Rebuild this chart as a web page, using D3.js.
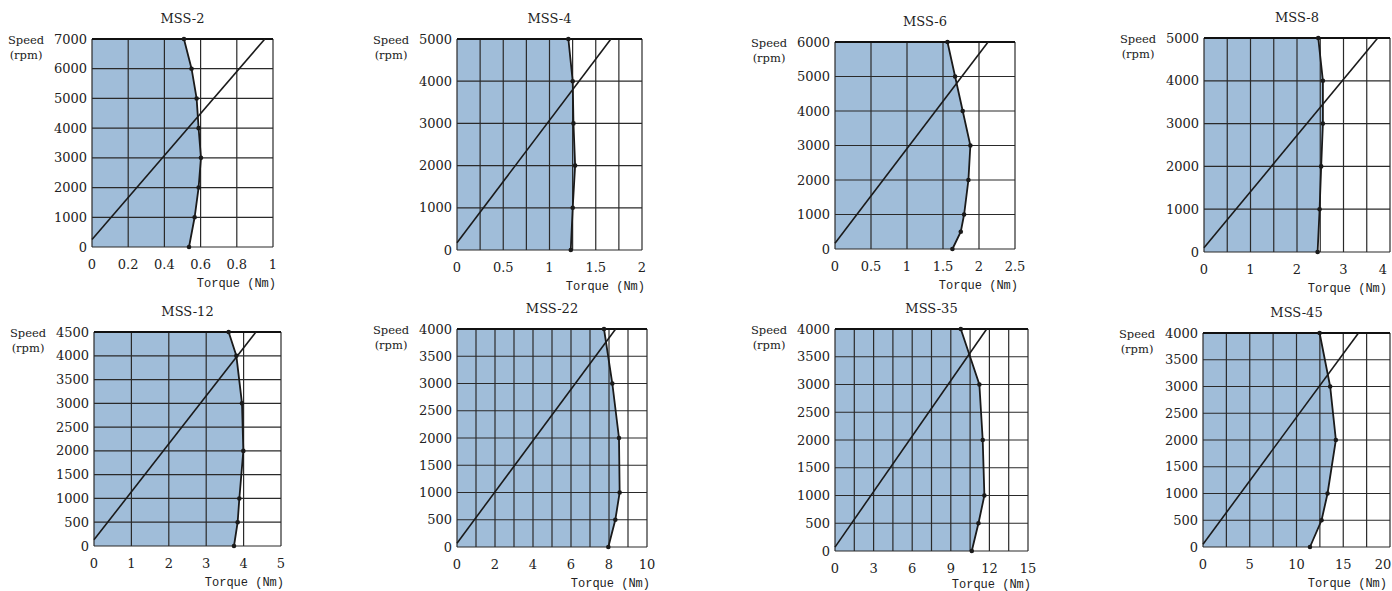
<!DOCTYPE html>
<meta charset="utf-8">
<head>
<script src="https://d3js.org/d3.v7.min.js"></script>
<style>
  body { margin: 0; background: #fff; }
  svg text { font-family: "DejaVu Serif", "Liberation Serif", serif; fill: #222; }
  .tick-lbl { font-size: 13px; }
  .ttl { font-size: 13px; }
  .axis-name { font-size: 11.5px; }
  .torque-name { font-family: "Liberation Mono", "DejaVu Sans Mono", monospace; font-size: 12px; }
</style>
</head>
<body>
<svg id="chart" width="1392" height="591"></svg>
<script>
// ---- data ----
var titles = ["MSS-2", "MSS-4", "MSS-6", "MSS-8", "MSS-12", "MSS-22", "MSS-35", "MSS-45"];

// axis maxima and tick steps
var torqueMax = [1, 2, 2.5, 4, 5, 10, 15, 20];
var torqueGridStep = [0.2, 0.25, 0.5, 0.5, 1, 1, 1.5, 2.5];
var torqueLabelStep = [0.2, 0.5, 0.5, 1, 1, 2, 3, 5];
var speedMax = [7000, 5000, 6000, 5000, 4500, 4000, 4000, 4000];
var speedStep = [1000, 1000, 1000, 1000, 500, 500, 500, 500];

// speed-torque curve vertices (speed rpm, torque Nm)
var curveSpeed = [
  [0, 1000, 2000, 3000, 4000, 5000, 6000, 7000],
  [0, 1000, 2000, 3000, 4000, 5000],
  [0, 500, 1000, 2000, 3000, 4000, 5000, 6000],
  [0, 1000, 2000, 3000, 4000, 5000],
  [0, 500, 1000, 2000, 3000, 4000, 4500],
  [0, 500, 1000, 2000, 3000, 4000],
  [0, 500, 1000, 2000, 3000, 4000],
  [0, 500, 1000, 2000, 3000, 4000]
];
var curveTorque = [
  [0.536, 0.567, 0.589, 0.602, 0.589, 0.578, 0.55, 0.508],
  [1.23, 1.251, 1.277, 1.259, 1.251, 1.204],
  [1.631, 1.747, 1.793, 1.853, 1.88, 1.774, 1.668, 1.562],
  [2.443, 2.486, 2.52, 2.557, 2.557, 2.457],
  [3.743, 3.841, 3.886, 3.993, 3.957, 3.806, 3.6],
  [7.965, 8.333, 8.561, 8.526, 8.175, 7.737],
  [10.63, 11.15, 11.61, 11.48, 11.22, 9.776],
  [11.44, 12.68, 13.32, 14.21, 13.6, 12.47]
];

// load line: speed at zero torque, torque at top speed
var lineStartSpeed = [250, 170, 165, 100, 130, 70, 70, 50];
var lineEndTorque = [0.955, 1.664, 2.126, 3.736, 4.33, 8.35, 11.79, 16.63];

// ---- layout (plot rectangles in px) ----
var boxes = [
  {l: 92, r: 273, t: 39, b: 247},
  {l: 457, r: 642, t: 39, b: 250},
  {l: 835, r: 1015, t: 42, b: 249},
  {l: 1204, r: 1390, t: 38, b: 252},
  {l: 94, r: 281, t: 332, b: 546},
  {l: 457, r: 647, t: 329, b: 547},
  {l: 835, r: 1028, t: 329, b: 551},
  {l: 1203, r: 1390, t: 333, b: 547}
];

var svg = d3.select("#chart");
var W = +svg.attr("width");

function fmt(v) {
  return String(+v.toFixed(2));
}

titles.forEach(function(title, i) {
  var bx = boxes[i];
  var x = d3.scaleLinear().domain([0, torqueMax[i]]).range([bx.l, bx.r]);
  var y = d3.scaleLinear().domain([0, speedMax[i]]).range([bx.b, bx.t]);
  var g = svg.append("g");

  // filled operating area
  var pts = curveSpeed[i].map(function(s, k) { return {s: s, t: curveTorque[i][k]}; });
  var area = d3.area()
    .y(function(d) { return y(d.s); })
    .x0(x(0))
    .x1(function(d) { return x(d.t); });
  g.append("path").datum(pts)
    .attr("d", area)
    .attr("fill", "#a0bdd9");

  // grid
  var xGrid = d3.range(0, torqueMax[i] + 1e-9, torqueGridStep[i]);
  var yGrid = d3.range(0, speedMax[i] + 1e-9, speedStep[i]);
  g.selectAll(".vg").data(xGrid).enter().append("line")
    .attr("x1", function(d) { return x(d); }).attr("x2", function(d) { return x(d); })
    .attr("y1", bx.t).attr("y2", bx.b)
    .attr("stroke", "#2a2a2a").attr("stroke-width", 1.2);
  g.selectAll(".hg").data(yGrid).enter().append("line")
    .attr("y1", function(d) { return y(d); }).attr("y2", function(d) { return y(d); })
    .attr("x1", bx.l).attr("x2", bx.r)
    .attr("stroke", "#2a2a2a").attr("stroke-width", 1.2);
  // heavier top edge
  g.append("line")
    .attr("x1", bx.l).attr("x2", bx.r).attr("y1", bx.t).attr("y2", bx.t)
    .attr("stroke", "#111").attr("stroke-width", 1.8);

  // curve + points
  var line = d3.line().x(function(d) { return x(d.t); }).y(function(d) { return y(d.s); });
  g.append("path").datum(pts)
    .attr("d", line).attr("fill", "none")
    .attr("stroke", "#1a1a1a").attr("stroke-width", 1.8);
  g.selectAll(".pt").data(pts).enter().append("circle")
    .attr("cx", function(d) { return x(d.t); })
    .attr("cy", function(d) { return y(d.s); })
    .attr("r", 2.3).attr("fill", "#1a1a1a");

  // load line
  g.append("line")
    .attr("x1", x(0)).attr("y1", y(lineStartSpeed[i]))
    .attr("x2", x(lineEndTorque[i])).attr("y2", y(speedMax[i]))
    .attr("stroke", "#1a1a1a").attr("stroke-width", 1.6);

  // tick labels
  g.selectAll(".yl").data(yGrid).enter().append("text")
    .attr("class", "tick-lbl")
    .attr("x", bx.l - 5).attr("y", function(d) { return y(d) + 4.5; })
    .attr("text-anchor", "end")
    .text(function(d) { return d; });
  var xLabels = d3.range(0, torqueMax[i] + 1e-9, torqueLabelStep[i]);
  g.selectAll(".xl").data(xLabels).enter().append("text")
    .attr("class", "tick-lbl")
    .attr("x", function(d) { return Math.min(x(d), W - 9); }).attr("y", bx.b + 22)
    .attr("text-anchor", "middle")
    .text(function(d) { return fmt(d); });

  // axis names and title
  g.append("text").attr("class", "torque-name")
    .attr("x", Math.min(bx.r + 3, W - 5)).attr("y", Math.min(bx.b + 40, 588))
    .attr("text-anchor", "end")
    .text("Torque (Nm)");
  g.append("text").attr("class", "axis-name")
    .attr("x", bx.l - 66).attr("y", bx.t + 5)
    .attr("text-anchor", "middle")
    .text("Speed");
  g.append("text").attr("class", "axis-name")
    .attr("x", bx.l - 66).attr("y", bx.t + 20)
    .attr("text-anchor", "middle")
    .text("(rpm)");
  g.append("text").attr("class", "ttl")
    .attr("x", (bx.l + bx.r) / 2).attr("y", bx.t - 16)
    .attr("text-anchor", "middle")
    .text(title);
});
</script>
</body>
